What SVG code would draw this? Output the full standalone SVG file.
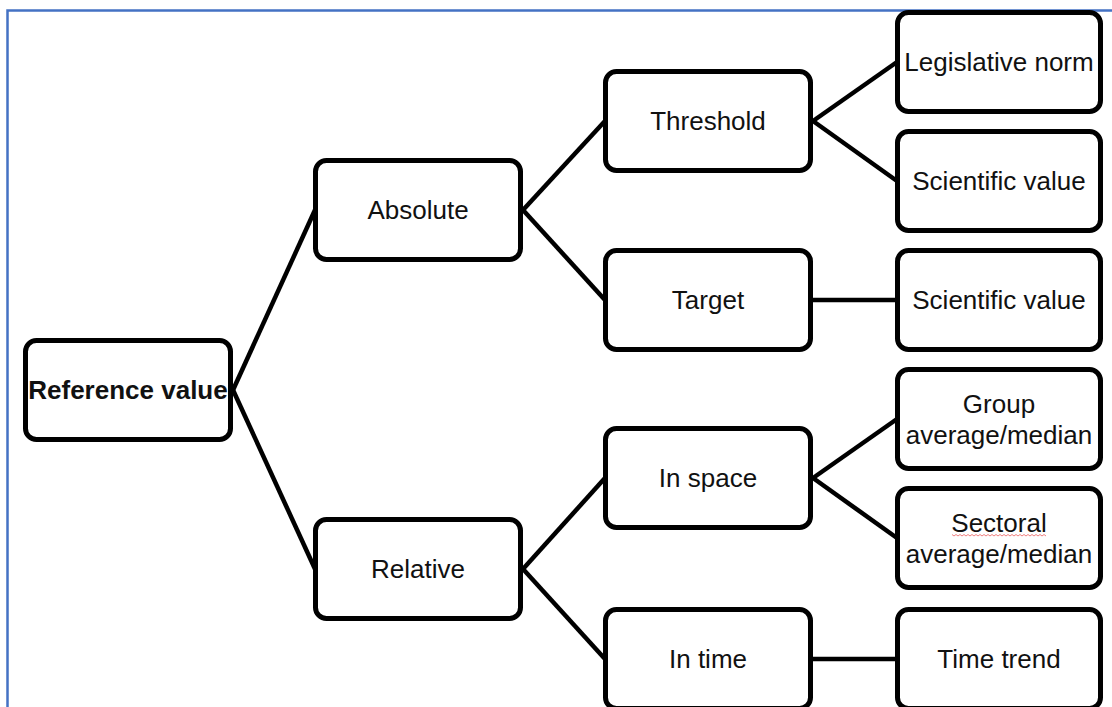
<svg xmlns="http://www.w3.org/2000/svg" width="1112" height="707" viewBox="0 0 1112 707">
  <style>
    .frame { fill: none; stroke: #4472C4; stroke-width: 2.5; }
    .box { fill: #ffffff; stroke: #000000; stroke-width: 5; }
    .link { stroke: #000000; stroke-width: 4.5; fill: none; stroke-linecap: butt; }
    .label { font-family: "Liberation Sans", Arial, sans-serif; font-size: 26px; fill: #111111; text-anchor: middle; }
    .bold { font-weight: bold; }
    .spell { fill: none; stroke: #f08080; stroke-width: 1; }
  </style>

  <rect width="1112" height="707" fill="#ffffff"/>

  <!-- outer page frame (top and left edges) -->
  <path class="frame" d="M7.5 707 V10.5 H1112"/>

  <!-- connectors -->
  <g id="connectors">
    <line class="link" x1="233" y1="390" x2="315" y2="210"/>
    <line class="link" x1="233" y1="390" x2="315" y2="569"/>
    <line class="link" x1="523" y1="210" x2="605" y2="121"/>
    <line class="link" x1="523" y1="210" x2="605" y2="300"/>
    <line class="link" x1="523" y1="569" x2="605" y2="478"/>
    <line class="link" x1="523" y1="569" x2="605" y2="659"/>
    <line class="link" x1="813" y1="121" x2="897" y2="62"/>
    <line class="link" x1="813" y1="121" x2="897" y2="181"/>
    <line class="link" x1="813" y1="300" x2="897" y2="300"/>
    <line class="link" x1="813" y1="478" x2="897" y2="419"/>
    <line class="link" x1="813" y1="478" x2="897" y2="538"/>
    <line class="link" x1="813" y1="659" x2="897" y2="659"/>
  </g>

  <g id="reference-value">
    <rect class="box" x="25.5" y="340.5" width="205" height="99" rx="11"/>
    <text class="label bold" x="128" y="399">Reference value</text>
  </g>

  <g id="absolute">
    <rect class="box" x="315.5" y="160.5" width="205" height="99" rx="11"/>
    <text class="label" x="418" y="219">Absolute</text>
  </g>

  <g id="relative">
    <rect class="box" x="315.5" y="519.5" width="205" height="99" rx="11"/>
    <text class="label" x="418" y="578">Relative</text>
  </g>

  <g id="threshold">
    <rect class="box" x="605.5" y="71.5" width="205" height="99" rx="11"/>
    <text class="label" x="708" y="130">Threshold</text>
  </g>

  <g id="target">
    <rect class="box" x="605.5" y="250.5" width="205" height="99" rx="11"/>
    <text class="label" x="708" y="309">Target</text>
  </g>

  <g id="in-space">
    <rect class="box" x="605.5" y="428.5" width="205" height="99" rx="11"/>
    <text class="label" x="708" y="487">In space</text>
  </g>

  <g id="in-time">
    <rect class="box" x="605.5" y="609.5" width="205" height="99" rx="11"/>
    <text class="label" x="708" y="668">In time</text>
  </g>

  <g id="legislative-norm">
    <rect class="box" x="897.5" y="12.5" width="203" height="99" rx="11"/>
    <text class="label" x="999" y="71">Legislative norm</text>
  </g>

  <g id="scientific-value-threshold">
    <rect class="box" x="897.5" y="131.5" width="203" height="99" rx="11"/>
    <text class="label" x="999" y="190">Scientific value</text>
  </g>

  <g id="scientific-value-target">
    <rect class="box" x="897.5" y="250.5" width="203" height="99" rx="11"/>
    <text class="label" x="999" y="309">Scientific value</text>
  </g>

  <g id="group-average">
    <rect class="box" x="897.5" y="369.5" width="203" height="99" rx="11"/>
    <text class="label" x="999" y="413">Group</text>
    <text class="label" x="999" y="444">average/median</text>
  </g>

  <g id="sectoral-average">
    <rect class="box" x="897.5" y="488.5" width="203" height="99" rx="11"/>
    <text class="label" x="999" y="532">Sectoral</text>
    <text class="label" x="999" y="563">average/median</text>
    <!-- spell-check underline -->
    <path class="spell" d="M952 534.5 l2 1.5 l2 -1.5 l2 1.5 l2 -1.5 l2 1.5 l2 -1.5 l2 1.5 l2 -1.5 l2 1.5 l2 -1.5 l2 1.5 l2 -1.5 l2 1.5 l2 -1.5 l2 1.5 l2 -1.5 l2 1.5 l2 -1.5 l2 1.5 l2 -1.5 l2 1.5 l2 -1.5 l2 1.5 l2 -1.5 l2 1.5 l2 -1.5 l2 1.5 l2 -1.5 l2 1.5 l2 -1.5 l2 1.5 l2 -1.5 l2 1.5 l2 -1.5 l2 1.5 l2 -1.5 l2 1.5 l2 -1.5 l2 1.5 l2 -1.5 l2 1.5 l2 -1.5 l2 1.5 l2 -1.5 l2 1.5 l2 -1.5 l2 1.5"/>
  </g>

  <g id="time-trend">
    <rect class="box" x="897.5" y="609.5" width="203" height="99" rx="11"/>
    <text class="label" x="999" y="668">Time trend</text>
  </g>
</svg>
